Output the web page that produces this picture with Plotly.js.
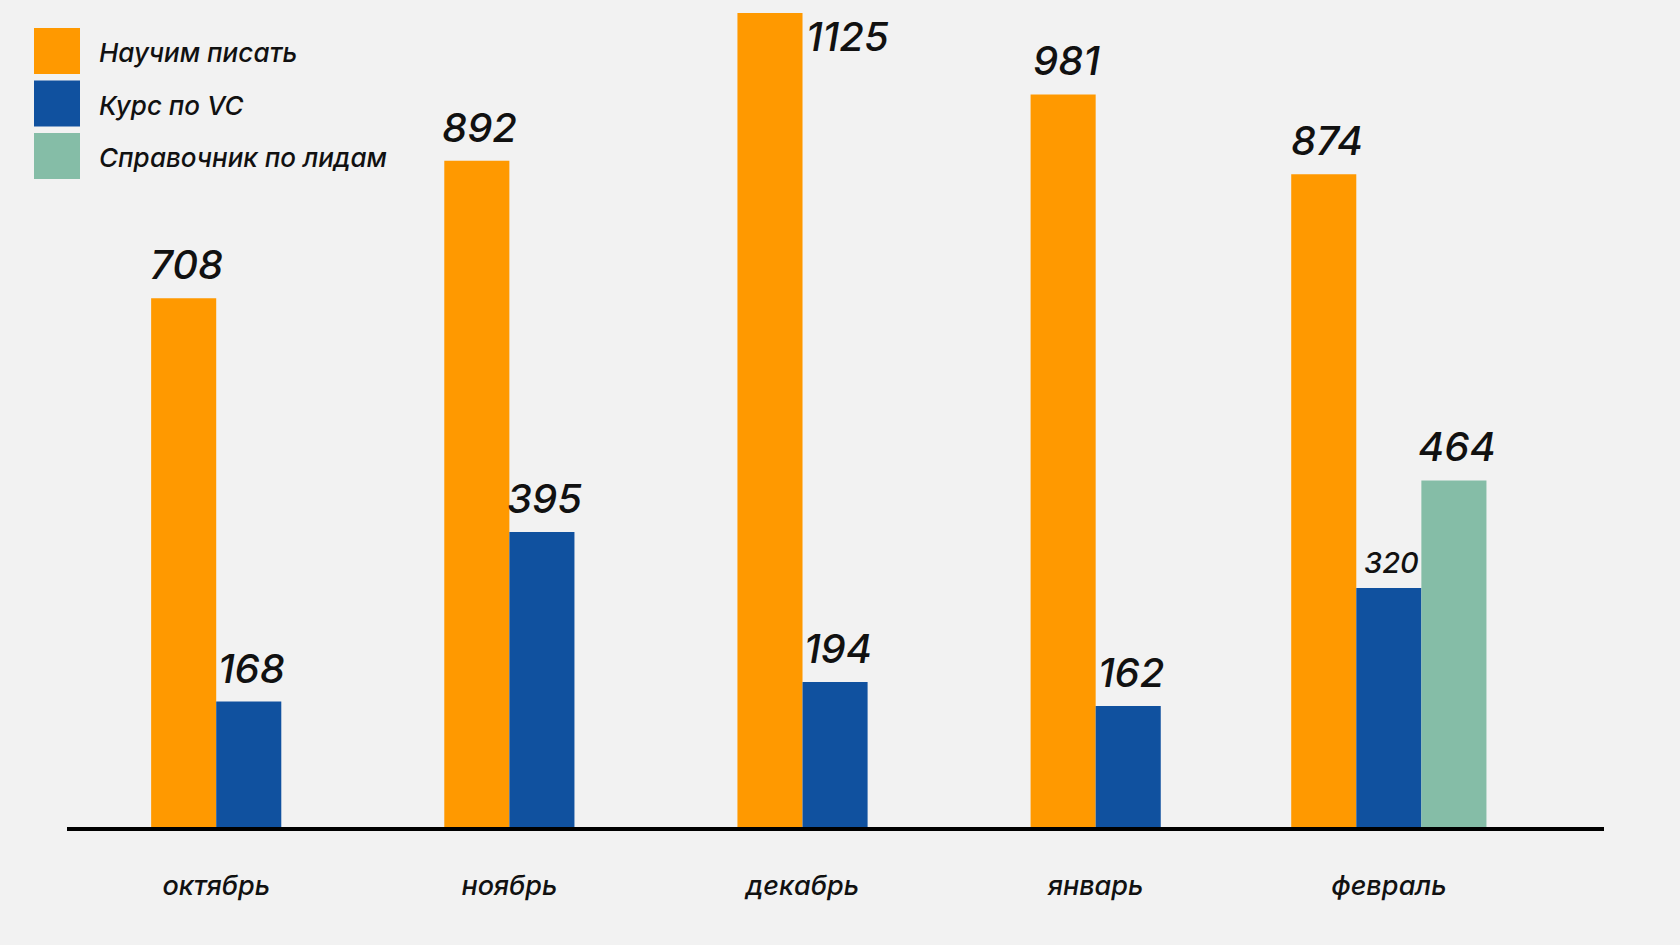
<!DOCTYPE html>
<html>
<head>
<meta charset="utf-8">
<script src="https://cdn.plot.ly/plotly-3.0.1.min.js"></script>
<style>
html,body{margin:0;padding:0;background:#f2f2f2;}
#chart{width:1680px;height:945px;}
</style>
</head>
<body>
<div id="chart"></div>
<script>
// ---- data ----
const months = ['октябрь', 'ноябрь', 'декабрь', 'январь', 'февраль'];
const seriesNames = ['Научим писать', 'Курс по VC', 'Справочник по лидам'];
const writeValues = [708, 892, 1125, 981, 874];
const vcValues = [168, 395, 194, 162, 320];
const leadMonths = ['февраль'];
const leadValues = [464];
const colors = ['#ff9900', '#10519f', '#85bda7'];

// ---- geometry / styling ----
const W = 1680, H = 945;
const M = {l: 67, r: 76, t: 13, b: 118};
const plotW = W - M.l - M.r, plotH = H - M.t - M.b;
const xRange = [-0.509, 4.734];
const yMax = 1090;
const bw = 0.222;

// offsets: two-bar groups centered, three-bar group centered
function nBars(m) { return leadMonths.includes(m) ? 3 : 2; }
const writeOffsets = months.map(m => -nBars(m) * bw / 2);
const vcOffsets = months.map(m => -nBars(m) * bw / 2 + bw);
const leadOffsets = leadMonths.map(m => -nBars(m) * bw / 2 + 2 * bw);

const traces = [
  {type: 'bar', name: seriesNames[0], x: months, y: writeValues, width: bw, offset: writeOffsets,
   marker: {color: colors[0]}, hoverinfo: 'skip'},
  {type: 'bar', name: seriesNames[1], x: months, y: vcValues, width: bw, offset: vcOffsets,
   marker: {color: colors[1]}, hoverinfo: 'skip'},
  {type: 'bar', name: seriesNames[2], x: leadMonths, y: leadValues, width: bw, offset: leadOffsets,
   marker: {color: colors[2]}, hoverinfo: 'skip'}
];

const fam = 'Inter, "Noto Sans", sans-serif';
const labelFont = {family: fam, size: 40, color: '#111', style: 'italic', weight: 500};
const annotations = [];
function addLabels(xs, vals, offs, smallSet) {
  xs.forEach((m, k) => {
    const i = months.indexOf(m);
    const v = vals[k];
    const center = i + offs[k] + bw / 2;
    const small = smallSet && smallSet.includes(v);
    const f = Object.assign({}, labelFont, small ? {size: 29} : {});
    if (v > yMax) {
      annotations.push({x: i + offs[k] + bw, y: yMax, xref: 'x', yref: 'y', text: String(v),
        showarrow: false, xanchor: 'left', yanchor: 'top', xshift: 1, yshift: 3, font: f});
    } else {
      annotations.push({x: center, y: v, xref: 'x', yref: 'y', text: String(v),
        showarrow: false, xanchor: 'center', yanchor: 'bottom', xshift: 3, yshift: small ? 6 : 7, font: f});
    }
  });
}
addLabels(months, writeValues, writeOffsets);
addLabels(months, vcValues, vcOffsets, [320]);
addLabels(leadMonths, leadValues, leadOffsets);

// legend built from shapes + annotations (pixel -> paper)
const px2x = p => (p - M.l) / plotW;
const px2y = p => (H - M.b - p) / plotH;
const shapes = [];
seriesNames.forEach((name, k) => {
  const top = 28 + k * 52.5;
  shapes.push({type: 'rect', xref: 'paper', yref: 'paper',
    x0: px2x(34), x1: px2x(80), y0: px2y(top + 46), y1: px2y(top),
    fillcolor: colors[k], line: {width: 0}});
  annotations.push({xref: 'paper', yref: 'paper', x: px2x(97), y: px2y(top + 25),
    xanchor: 'left', yanchor: 'middle', showarrow: false, text: name,
    font: {family: fam, size: 26, color: '#111', style: 'italic', weight: 500}});
});

const layout = {
  width: W, height: H,
  margin: M,
  paper_bgcolor: '#f2f2f2', plot_bgcolor: '#f2f2f2',
  barmode: 'overlay',
  showlegend: false,
  xaxis: {type: 'category', range: xRange, showgrid: false, zeroline: false,
    showline: true, linecolor: '#000', linewidth: 4, ticks: '',
    ticklabelstandoff: 32,
    tickfont: {family: fam, size: 27, color: '#111', style: 'italic', weight: 500}},
  yaxis: {range: [0, yMax], visible: false, showgrid: false, zeroline: false, fixedrange: true},
  annotations: annotations,
  shapes: shapes
};

Plotly.newPlot('chart', traces, layout, {displayModeBar: false, staticPlot: true});
</script>
</body>
</html>
